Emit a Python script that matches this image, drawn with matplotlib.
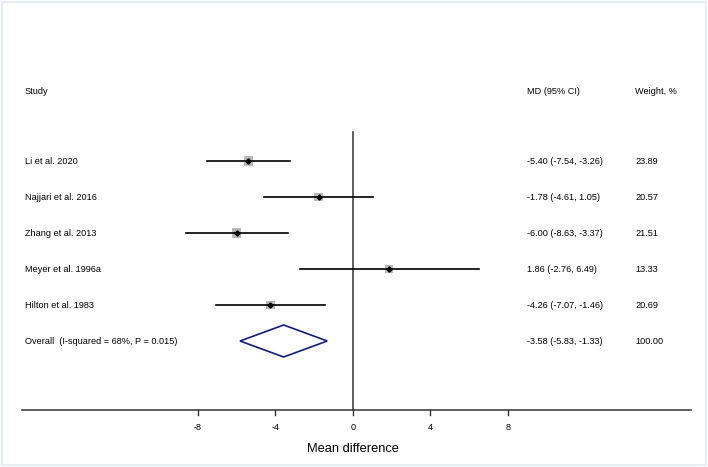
import matplotlib
matplotlib.use("Agg")
import matplotlib.pyplot as plt
from matplotlib.patches import Polygon, Rectangle

plt.rcParams['font.family'] = ['Liberation Sans', 'DejaVu Sans']

studies = ["Li et al. 2020", "Najjari et al. 2016", "Zhang et al. 2013",
           "Meyer et al. 1996a", "Hilton et al. 1983"]
md = [-5.40, -1.78, -6.00, 1.86, -4.26]
lo = [-7.54, -4.61, -8.63, -2.76, -7.07]
hi = [-3.26, 1.05, -3.37, 6.49, -1.46]
weight = [23.89, 20.57, 21.51, 13.33, 20.69]

overall_label = "Overall  (I-squared = 68%, P = 0.015)"
overall_md, overall_lo, overall_hi = -3.58, -5.83, -1.33
overall_weight = 100.00

xticks = [-8, -4, 0, 4, 8]

# layout in pixels (y grows downward)
W, H = 708, 467
px0, ppu = 353, 19.375          # pixel of x=0, pixels per unit
row0, drow = 161, 36
header_y = 91
axis_y = 410
col_study, col_md, col_w = 25, 527, 635

def to_data(px):
    return (px - px0) / ppu

fig = plt.figure(figsize=(W / 100, H / 100), dpi=100)
ax = fig.add_axes([0, 0, 1, 1])
ax.set_xlim(to_data(0), to_data(W))
ax.set_ylim(H, 0)
ax.axis('off')

fs = 6.6
ax.text(to_data(col_study), header_y, "Study", fontsize=fs, va='center')
ax.text(to_data(col_md), header_y, "MD (95% CI)", fontsize=fs, va='center')
ax.text(to_data(col_w), header_y, "Weight, %", fontsize=fs, va='center')

for i, name in enumerate(studies):
    y = row0 + drow * i
    ax.plot([lo[i], hi[i]], [y, y], color='black', lw=1.2, zorder=3)
    ax.scatter([md[i]], [y], marker='s', s=weight[i] * 2.0, color='#b8b8b8',
               edgecolors='none', zorder=2)
    ax.plot([md[i]], [y], marker='D', ms=2.6, color='black', zorder=4)
    ax.text(to_data(col_study), y, name, fontsize=fs, va='center')
    ax.text(to_data(col_md), y, f"{md[i]:.2f} ({lo[i]:.2f}, {hi[i]:.2f})",
            fontsize=fs, va='center')
    ax.text(to_data(col_w), y, f"{weight[i]:.2f}", fontsize=fs, va='center')

yo = row0 + drow * len(studies)
diamond = Polygon([[overall_lo, yo], [overall_md, yo - 16],
                   [overall_hi, yo], [overall_md, yo + 16]],
                  closed=True, fill=False, edgecolor='#101c80', lw=1.2, zorder=3)
ax.add_patch(diamond)
ax.text(to_data(col_study), yo, overall_label, fontsize=fs, va='center')
ax.text(to_data(col_md), yo,
        f"{overall_md:.2f} ({overall_lo:.2f}, {overall_hi:.2f})",
        fontsize=fs, va='center')
ax.text(to_data(col_w), yo, f"{overall_weight:.2f}", fontsize=fs, va='center')

# null line
ax.plot([0, 0], [132, axis_y], color='#333333', lw=1.1, zorder=1)

# x axis
ax.plot([to_data(22), to_data(691)], [axis_y, axis_y], color='#333333', lw=1.1)
for t in xticks:
    ax.plot([t, t], [axis_y, axis_y + 5], color='#333333', lw=1)
    ax.text(t, 427, f"{t}", fontsize=6.5, ha='center', va='center')
ax.text(0, 449, "Mean difference", fontsize=9.3, ha='center', va='center')

fig.patches.append(Rectangle((0.003, 0.004), 0.994, 0.992, transform=fig.transFigure,
                             fill=False, edgecolor='#e4edf3', lw=1.5))

fig.savefig("out.png", dpi=100)
